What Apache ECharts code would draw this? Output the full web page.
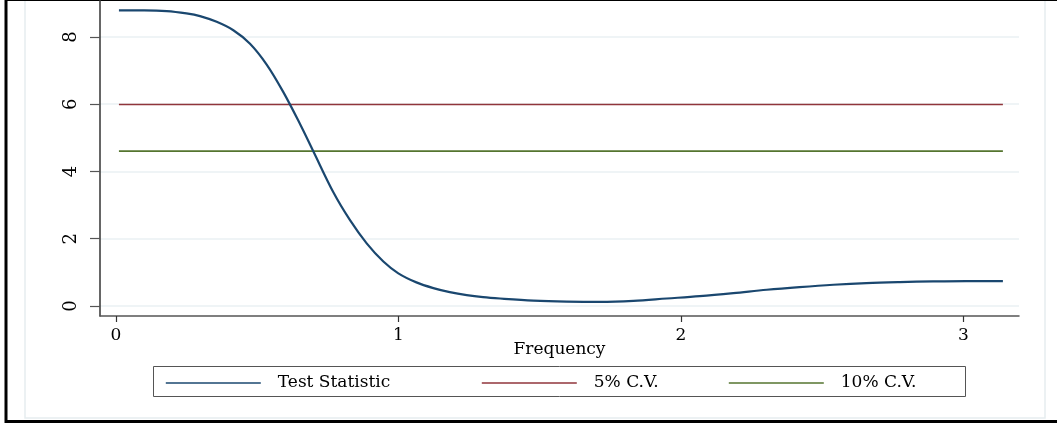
<!DOCTYPE html>
<html>
<head>
<meta charset="utf-8">
<script src="https://cdn.jsdelivr.net/npm/echarts@6/dist/echarts.min.js"></script>
<style>html,body{margin:0;padding:0;background:#fff;}#chart{width:1057px;height:425px;}</style>
</head>
<body>
<div id="chart"></div>
<script>
// ---- data ----
const freq = [0.011, 0.10, 0.18, 0.25, 0.298, 0.357, 0.416, 0.475, 0.534, 0.593, 0.652, 0.699, 0.770, 0.829, 0.888, 0.947, 1.0, 1.064, 1.124, 1.182, 1.242, 1.30, 1.36, 1.478, 1.596, 1.714, 1.832, 1.95, 2.067, 2.186, 2.304, 2.42, 2.54, 2.657, 2.775, 2.893, 3.01, 3.14];
const testStat = [8.79, 8.79, 8.77, 8.70, 8.62, 8.45, 8.20, 7.80, 7.18, 6.36, 5.41, 4.60, 3.38, 2.55, 1.86, 1.32, 0.97, 0.70, 0.53, 0.41, 0.32, 0.26, 0.22, 0.16, 0.13, 0.12, 0.15, 0.22, 0.29, 0.38, 0.48, 0.56, 0.63, 0.68, 0.71, 0.73, 0.74, 0.74];
const cvFreq = [0.011, 3.14];
const cv5 = [5.991, 5.991];
const cv10 = [4.605, 4.605];
const seriesNames = ['Test Statistic', '5% C.V.', '10% C.V.'];
const xTicks = [0, 1, 2, 3];
const yTicks = [0, 2, 4, 6, 8];
const xName = 'Frequency';

const FONT = 'DejaVu Serif';
const pairs = (xs, ys) => xs.map((x, i) => [x, ys[i]]);
const legendLefts = [165, 481, 728];

const chart = echarts.init(document.getElementById('chart'), null, {renderer: 'canvas'});
chart.setOption({
  backgroundColor: '#fff',
  animation: false,
  graphic: [
    {type: 'rect', shape: {x: 25, y: -10, width: 1020, height: 428}, style: {fill: 'none', stroke: '#e6edf0', lineWidth: 1.5}, z: -1},
    {type: 'rect', shape: {x: 6, y: -0.5, width: 1100, height: 422}, style: {fill: 'none', stroke: '#000', lineWidth: 3}, z: -1},
    {type: 'rect', shape: {x: 153.5, y: 366.5, width: 812, height: 30}, style: {fill: '#fff', stroke: '#555', lineWidth: 1}, z: 0}
  ],
  grid: {left: 100, right: 38, top: 0, bottom: 109, outerBoundsMode: 'none'},
  xAxis: {
    type: 'value', min: -0.056, max: 3.197,
    name: xName, nameLocation: 'middle', nameGap: 25, nameMoveOverlap: false,
    nameTextStyle: {fontFamily: FONT, fontSize: 17, color: '#000'},
    axisLine: {show: true, onZero: false, lineStyle: {color: '#555', width: 1.5}},
    axisTick: {show: true, length: 6, customValues: xTicks, lineStyle: {color: '#333', width: 1.2}},
    axisLabel: {customValues: xTicks, margin: 11, fontFamily: FONT, fontSize: 17, color: '#000'},
    splitLine: {show: false}
  },
  yAxis: {
    type: 'value', min: -0.3, max: 9.1,
    axisLine: {show: true, onZero: false, lineStyle: {color: '#333', width: 1.5}},
    axisTick: {show: true, length: 10, customValues: yTicks, lineStyle: {color: '#555', width: 1.2}},
    axisLabel: {customValues: yTicks, rotate: 90, margin: 20, fontFamily: FONT, fontSize: 18, color: '#000'},
    splitLine: {show: true, lineStyle: {color: '#eaf0f3', width: 1.5}}
  },
  legend: seriesNames.map((name, i) => ({
    left: legendLefts[i], top: 374.5, orient: 'horizontal', padding: 0,
    itemWidth: 95, itemHeight: 14, selectedMode: false, z: 5,
    itemStyle: {opacity: 0},
    lineStyle: {width: 1.6},
    textStyle: {fontFamily: FONT, fontSize: 17, color: '#000', padding: [0, 0, 0, 12]},
    data: [name]
  })),
  series: [
    {name: seriesNames[0], type: 'line', data: pairs(freq, testStat), smooth: 0.35, symbol: 'none',
     lineStyle: {color: '#1a476f', width: 2.2}, itemStyle: {color: '#1a476f'}, z: 3},
    {name: seriesNames[1], type: 'line', data: pairs(cvFreq, cv5), symbol: 'none',
     lineStyle: {color: '#90353b', width: 1.6}, itemStyle: {color: '#90353b'}, z: 2},
    {name: seriesNames[2], type: 'line', data: pairs(cvFreq, cv10), symbol: 'none',
     lineStyle: {color: '#55752f', width: 1.6}, itemStyle: {color: '#55752f'}, z: 2}
  ]
});
</script>
</body>
</html>
